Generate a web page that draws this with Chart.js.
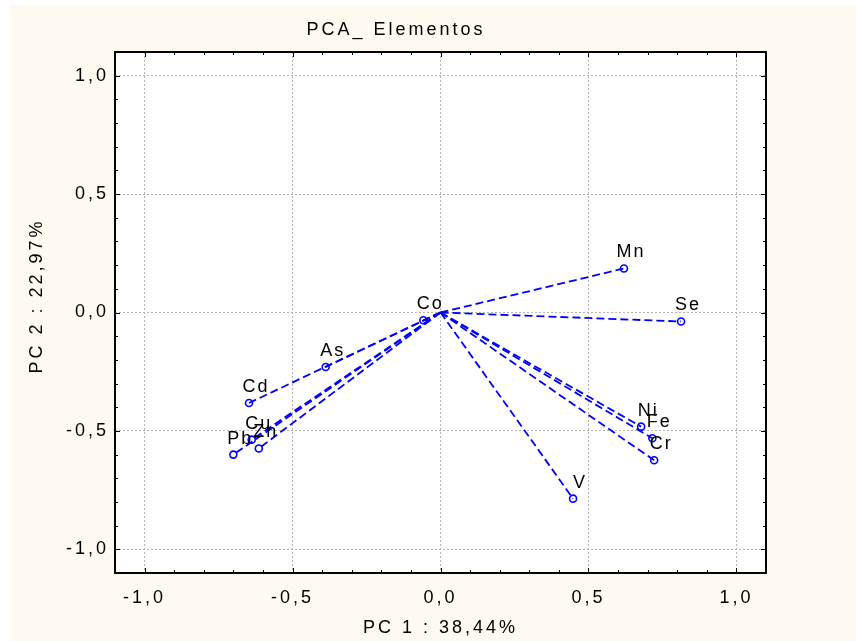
<!DOCTYPE html>
<html>
<head>
<meta charset="utf-8">
<title>PCA_ Elementos</title>
<script src="https://cdn.jsdelivr.net/npm/chart.js@4.4.0/dist/chart.umd.min.js"></script>
<style>
  html, body { margin: 0; padding: 0; background: #ffffff; }
  #wrap { width: 856px; height: 641px; }
</style>
</head>
<body>
<div id="wrap"><canvas id="grafica" width="856" height="641"></canvas></div>
<script>
// loadings for each element on the first two components
const elementos = ['Mn', 'Se', 'Ni', 'Fe', 'Cr', 'V', 'Co', 'As', 'Cd', 'Cu', 'Zn', 'Pb'];
const pc1 = [0.620, 0.813, 0.678, 0.716, 0.722, 0.448, -0.058, -0.388, -0.647, -0.638, -0.614, -0.700];
const pc2 = [0.186, -0.038, -0.482, -0.531, -0.624, -0.786, -0.033, -0.230, -0.382, -0.537, -0.574, -0.600];
const ticksMayores = [-1.0, -0.5, 0.0, 0.5, 1.0];

const azul = '#0000ff';
const fuente = "'Liberation Sans', Arial, sans-serif";

function etiquetaTick(v) {
    return v.toFixed(1).replace('.', ',');
}

// one dashed segment from the origin to each loading
let datasets = elementos.map(function (el, i) {
    return {
        label: el,
        data: [{x: 0, y: 0}, {x: pc1[i], y: pc2[i]}],
        showLine: true,
        borderColor: azul,
        borderWidth: 1.8,
        borderDash: [8, 4],
        pointRadius: [0, 3.5],
        pointBorderColor: azul,
        pointBackgroundColor: 'rgba(0,0,0,0)',
        pointBorderWidth: 1.6
    };
});

const fondo = {
    id: 'fondo',
    beforeDraw: function (chart) {
        let ctx = chart.ctx;
        let a = chart.chartArea;
        ctx.save();
        ctx.fillStyle = '#ffffff';
        ctx.fillRect(0, 0, chart.width, chart.height);
        ctx.fillStyle = '#fffaef';
        ctx.fillRect(10, 5, chart.width - 10, chart.height - 5);
        ctx.fillStyle = '#ffffff';
        ctx.fillRect(a.left, a.top, a.right - a.left, a.bottom - a.top);
        ctx.restore();
        ctx.letterSpacing = '3px';
    },
    afterDraw: function (chart) {
        let ctx = chart.ctx;
        let a = chart.chartArea;
        let sx = chart.scales.x, sy = chart.scales.y;
        ctx.save();
        // small inward ticks every 0.1 on all four sides
        ctx.strokeStyle = '#000000';
        ctx.lineWidth = 1;
        for (let k = -11; k <= 11; k++) {
            let v = k / 10;
            let largo = (k % 5 === 0) ? 5 : 3;
            let px = Math.round(sx.getPixelForValue(v)) + 0.5;
            let py = Math.round(sy.getPixelForValue(v)) + 0.5;
            ctx.beginPath();
            ctx.moveTo(px, a.bottom); ctx.lineTo(px, a.bottom - largo);
            ctx.moveTo(px, a.top); ctx.lineTo(px, a.top + largo);
            ctx.moveTo(a.left, py); ctx.lineTo(a.left + largo, py);
            ctx.moveTo(a.right, py); ctx.lineTo(a.right - largo, py);
            ctx.stroke();
        }
        ctx.lineWidth = 2;
        ctx.strokeRect(a.left, a.top, a.right - a.left, a.bottom - a.top);

        // element names above each point
        ctx.fillStyle = '#000000';
        ctx.font = '18px ' + fuente;
        ctx.letterSpacing = '2px';
        ctx.textAlign = 'center';
        ctx.textBaseline = 'middle';
        elementos.forEach(function (el, i) {
            let px = sx.getPixelForValue(pc1[i]);
            let py = sy.getPixelForValue(pc2[i]);
            ctx.fillText(el, px + 7, py - 16);
        });

        // title
        ctx.letterSpacing = '3px';
        ctx.fillText('PCA_ Elementos', 396, 30);

        // vertical axis title
        ctx.translate(37, 296);
        ctx.rotate(-Math.PI / 2);
        ctx.fillText('PC 2 : 22,97%', 0, 0);
        ctx.restore();
    }
};

let ctx = document.getElementById('grafica').getContext('2d');
let miGrafica = new Chart(ctx, {
    type: 'scatter',
    data: { datasets: datasets },
    options: {
        responsive: false,
        animation: false,
        layout: { padding: { left: 0, right: 90, top: 52, bottom: 0 } },
        plugins: {
            legend: { display: false },
            tooltip: { enabled: false }
        },
        scales: {
            x: {
                min: -1.1,
                max: 1.1,
                afterFit: function (scale) { scale.height = 68; },
                afterBuildTicks: function (scale) {
                    scale.ticks = ticksMayores.map(function (v) { return {value: v}; });
                },
                grid: { color: '#b4b4b4', lineWidth: 1, drawTicks: false },
                border: { display: false, dash: [2, 2] },
                ticks: {
                    padding: 14,
                    color: '#000000',
                    font: { family: fuente, size: 18 },
                    callback: function (v) { return etiquetaTick(v); }
                },
                title: {
                    display: true,
                    text: 'PC 1 : 38,44%',
                    color: '#000000',
                    font: { family: fuente, size: 18 },
                    padding: { top: 6, bottom: 2 }
                }
            },
            y: {
                min: -1.1,
                max: 1.1,
                afterFit: function (scale) { scale.width = 115; },
                afterBuildTicks: function (scale) {
                    scale.ticks = ticksMayores.map(function (v) { return {value: v}; });
                },
                grid: { color: '#b4b4b4', lineWidth: 1, drawTicks: false },
                border: { display: false, dash: [2, 2] },
                ticks: {
                    padding: 6,
                    color: '#000000',
                    font: { family: fuente, size: 18 },
                    callback: function (v) { return etiquetaTick(v); }
                },
                title: { display: false }
            }
        }
    },
    plugins: [fondo]
});
</script>
</body>
</html>
